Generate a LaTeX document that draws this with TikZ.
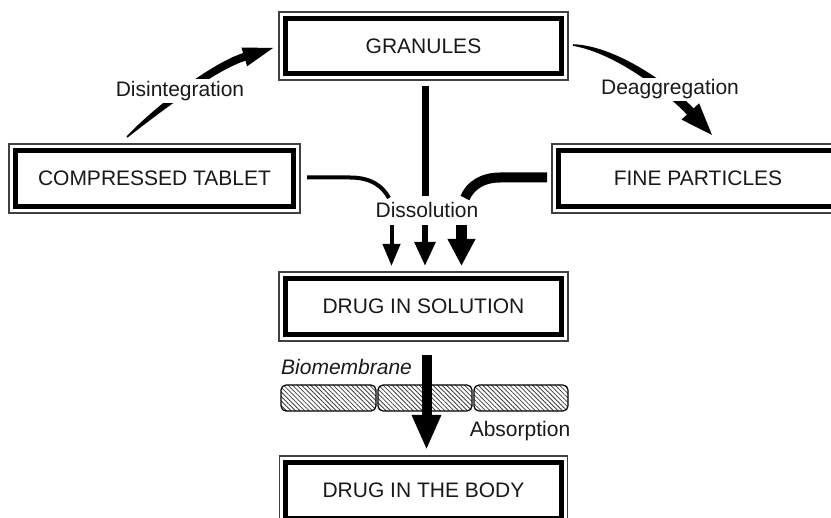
\documentclass[tikz,border=0pt]{standalone}
\usepackage{fontspec}
\setmainfont{Liberation Sans}
\usetikzlibrary{arrows.meta,calc,patterns.meta}
\begin{document}
\begin{tikzpicture}[x=1pt,y=-1pt,
  font=\fontsize{21}{25}\selectfont,
  every node/.style={text=black!90},
  stage/.style={draw=black!75, line width=1.1pt, fill=white, minimum height=69pt,
    inner sep=0pt, outer sep=0pt,
    path picture={\draw[black,line width=5pt]
      ([shift={(6.3pt,-6.3pt)}]path picture bounding box.north west) rectangle
      ([shift={(-6.3pt,6.3pt)}]path picture bounding box.south east);}},
  membrane/.style={draw=black, line width=1.2pt, rounded corners=5pt,
    minimum width=94pt, minimum height=26pt, inner sep=0pt,
    pattern={Lines[angle=-45,distance=3.2pt,line width=0.8pt]}, pattern color=black!75},
  tag/.style={inner sep=2pt, fill=white},
  swoosh/.style={fill=black, draw=none},
]
\useasboundingbox (0,0) rectangle (831,518);
\clip (0,0) rectangle (831,518);
\fill[white] (0,0) rectangle (831,518);

% stages
\node[stage, minimum width=289pt, minimum height=68pt] (gran) at (423.5,46) {GRANULES};
\node[stage, minimum width=291pt] (tab) at (154.5,178.5) {COMPRESSED TABLET};
\node[stage, minimum width=292pt] (fine) at (698,178.5) {FINE PARTICLES};
\node[stage, minimum width=289pt] (sol) at (423.5,306.5) {DRUG IN SOLUTION};
\node[stage, minimum width=288pt] (body) at (423.5,490.5) {DRUG IN THE BODY};

% biomembrane segments
\node[membrane, minimum width=95pt] (m1) at (328.5,398) {};
\node[membrane] (m2) at (425,398) {};
\node[membrane] (m3) at (521,398) {};

% disintegration: tapered swoosh from tablet to granules, head included
\coordinate (d0) at ([xshift=-27.5pt,yshift=7pt]tab.north);
\coordinate (d1) at ([xshift=-6pt,yshift=-2pt]gran.west);
\fill[swoosh] ($(d0)+(-0.5,-0.6)$)
  .. controls ($(d0)+(30.3,-33)$) and ($(d1)+(-59.2,14.2)$) .. ($(d1)+(-29.9,5.1)$)
  -- ($(d1)+(-31.5,-0.5)$) -- (d1) -- ($(d1)+(-25.9,18.3)$) -- ($(d1)+(-27.5,12.7)$)
  .. controls ($(d1)+(-56.8,21.8)$) and ($(d0)+(35.7,-27)$) .. ($(d0)+(0.5,0.6)$)
  -- cycle;

% deaggregation: tapered swoosh from granules to fine particles, head included
\coordinate (e0) at ([xshift=5pt,yshift=1pt]gran.east);
\coordinate (e1) at ([xshift=14pt,yshift=9pt]fine.north);
\fill[swoosh] ($(e0)+(0.1,-0.8)$)
  .. controls ($(e0)+(47.4,1)$) and ($(e1)+(-33.7,-43.1)$) .. ($(e1)+(-18.4,-26.6)$)
  -- ($(e1)+(-12.9,-31.7)$) -- (e1) -- ($(e1)+(-30.5,-15.4)$) -- ($(e1)+(-25,-20.4)$)
  .. controls ($(e1)+(-40.3,-36.9)$) and ($(e0)+(46.6,9)$) .. ($(e0)+(-0.1,0.8)$)
  -- cycle;

% streams converging on dissolution
\coordinate (lin) at (389,198);
\coordinate (cin) at (425.5,196);
\coordinate (rin) at (465,198);
\draw[line width=4pt] ([xshift=7pt,yshift=1pt]tab.east) -- (350,177.5)
  .. controls (372,177.5) and (383,187) .. (lin);
\draw[line width=6.5pt] ([xshift=2pt,yshift=-6pt]gran.south) -- (cin);
\draw[line width=10pt] ([xshift=-5pt,yshift=1pt]fine.west) -- (500,177.5)
  .. controls (482,177.5) and (470,186) .. (rin);

% dissolution arrows into solution
\coordinate (a1) at (391.5,225);
\coordinate (a2) at (425,225);
\coordinate (a3) at (461.5,225);
\draw[line width=4pt, shorten >=6pt, -{Triangle[length=22pt,width=17pt]}] (a1) -- (a1 |- sol.north);
\draw[line width=5.5pt, shorten >=6pt, -{Triangle[length=24pt,width=20pt]}] (a2) -- (a2 |- sol.north);
\draw[line width=11pt, shorten >=6pt, -{Triangle[length=27pt,width=26pt]}] (a3) -- (a3 |- sol.north);

% absorption through the membrane
\draw[line width=10pt, shorten <=14pt, shorten >=6pt, -{Triangle[length=35pt,width=27pt]}]
  ([xshift=3pt]sol.south) -- ([xshift=3pt]body.north);

% labels
\node[tag, anchor=base] (ldis) at (180,96.7) {Disintegration};
\node[tag, anchor=base] (ldea) at (670,95) {Deaggregation};
\node[anchor=base] (ldiss) at (427,218) {Dissolution};
\node[anchor=base west, inner sep=0pt, font=\fontsize{21}{25}\selectfont\itshape] (lbio) at (281,375) {Biomembrane};
\node[anchor=base] (labs) at (520,436.7) {Absorption};
\end{tikzpicture}
\end{document}
